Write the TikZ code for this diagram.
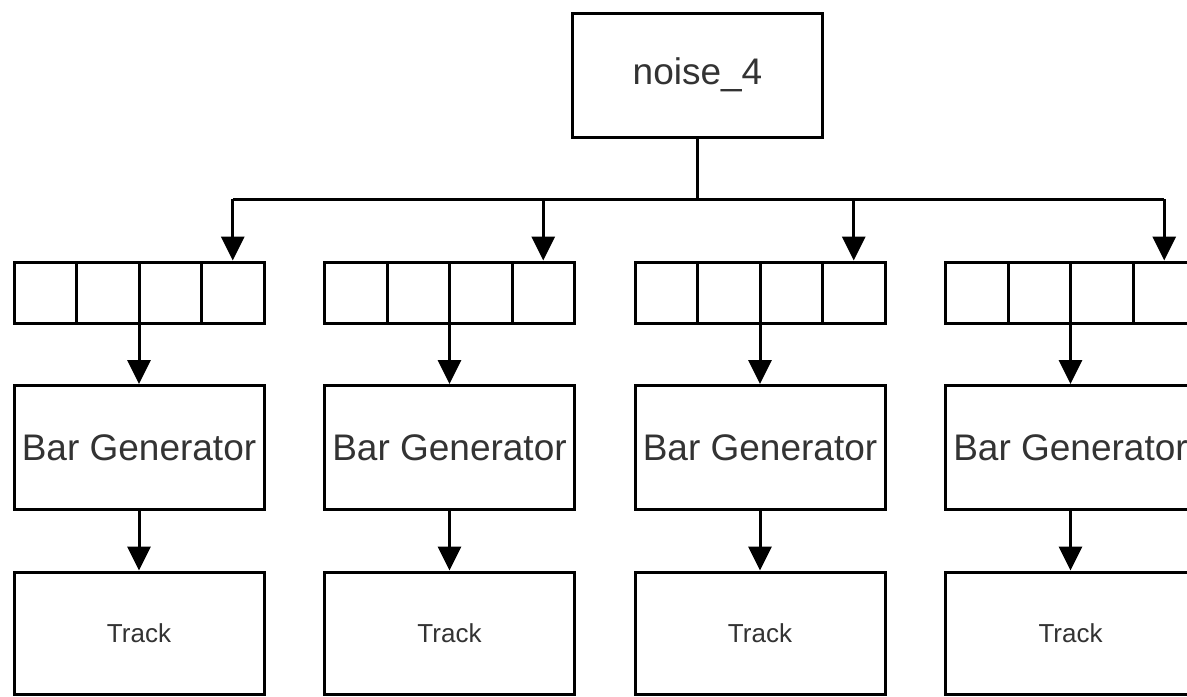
\documentclass[tikz,border=0pt]{standalone}
\usepackage{fontspec}
\setmainfont{Liberation Sans}
\usetikzlibrary{positioning,arrows.meta}

\begin{document}
\begin{tikzpicture}[
  x=0.5pt,
  y=-0.5pt,
  block/.style={
    rectangle,
    draw=black,
    fill=white,
    line width=1.5pt,
    minimum width=125pt,
    minimum height=62pt,
    inner sep=0pt,
    text=black!80,
    font=\fontsize{18.5}{22}\selectfont
  },
  track/.style={
    block,
    minimum height=61pt,
    font=\fontsize{13}{16}\selectfont
  },
  cell/.style={
    rectangle,
    draw=black,
    line width=1.5pt,
    minimum width=31.25pt,
    minimum height=30.5pt,
    inner sep=0pt
  },
  arrow/.style={
    -{Triangle[length=12pt,width=11.5pt]},
    line width=1.5pt,
    draw=black
  }
]
\clip (0,0) rectangle (1187,696);

% Noise source and bus
\node[block] (noise) at (697.5,75) {noise\_4};
\coordinate (bus) at (697.5,199);

% One column per track: latent vector, generator, output
\foreach \g in {1,...,4} {
  \pgfmathsetmacro\gx{14+310.5*(\g-1)}
  \foreach \c in {1,...,4}
    \node[cell] (vec\g-\c) at (\gx+62.5*\c-31.25,292.5) {};
  \node[block] (gen\g) at (\gx+125,447.5) {Bar Generator};
  \node[track] (trk\g) at (\gx+125,633) {Track};
}

% Connections
\draw[line width=1.5pt] (noise) -- (bus);
\draw[line width=1.5pt] (vec1-4.north |- bus) -- (vec4-4.north |- bus);
\foreach \g in {1,...,4} {
  \draw[arrow] (vec\g-4.north |- bus) -- (vec\g-4.north);
  \draw[arrow] (gen\g.north |- vec\g-2.south) -- (gen\g.north);
  \draw[arrow] (gen\g) -- (trk\g);
}

\end{tikzpicture}
\end{document}
